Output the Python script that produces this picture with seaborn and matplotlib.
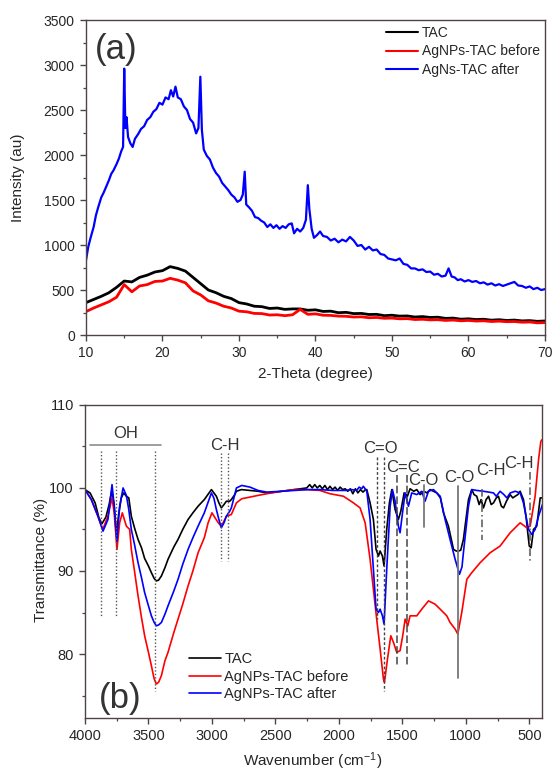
import numpy as np
import pandas as pd
import seaborn as sns
import matplotlib.pyplot as plt
from matplotlib.ticker import MultipleLocator

sns.set_style("ticks")
plt.rcParams['font.family'] = ['Liberation Sans', 'DejaVu Sans']
plt.rcParams['mathtext.default'] = 'regular'

# ---------------- XRD data (panel a) ----------------
xrd_theta = [10, 11, 12, 13, 14, 15, 16, 17, 18, 19, 20, 21, 22, 23, 24, 25, 26, 27, 28, 29,
             30, 31, 32, 33, 34, 35, 36, 37, 38, 39, 40, 41, 42, 43, 44, 45, 46, 47, 48, 49,
             50, 51, 52, 53, 54, 55, 56, 57, 58, 59, 60, 61, 62, 63, 64, 65, 66, 67, 68, 69, 70]
tac_xrd = [360, 395, 430, 470, 530, 600, 590, 640, 665, 700, 715, 760, 740, 710, 640, 570, 500, 470, 430, 405,
           360, 345, 320, 315, 295, 300, 285, 290, 290, 275, 280, 262, 265, 248, 252, 238, 240, 228, 230, 215,
           220, 210, 212, 200, 205, 195, 198, 185, 188, 176, 180, 172, 175, 165, 170, 162, 166, 157, 160, 152, 156]
before_xrd = [260, 300, 335, 370, 420, 560, 480, 545, 560, 595, 600, 630, 610, 580, 490, 445, 380, 355, 320, 300,
              265, 258, 240, 238, 222, 225, 215, 225, 285, 230, 235, 220, 218, 210, 208, 200, 202, 192, 195, 186,
              188, 180, 182, 172, 175, 168, 170, 162, 166, 158, 162, 155, 158, 150, 154, 148, 150, 142, 145, 135, 138]

after_theta = [10.0, 10.3, 10.6, 11.0, 11.3, 11.6, 12.0, 12.3, 12.6, 13.0, 13.3, 13.6, 14.0, 14.3, 14.6, 14.85,
               15.0, 15.15, 15.3, 15.5, 15.8, 16.1, 16.4, 16.8, 17.2, 17.6, 18.0, 18.4, 18.8, 19.2, 19.6, 20.0,
               20.4, 20.8, 21.1, 21.4, 21.7, 22.0, 22.4, 22.8, 23.2, 23.6, 24.0, 24.4, 24.7, 24.95, 25.15, 25.4,
               25.8, 26.2, 26.6, 27.0, 27.4, 27.8, 28.2, 28.6, 29.0, 29.4, 29.8, 30.2, 30.5, 30.75, 30.95, 31.3,
               31.7, 32.1, 32.5, 32.9, 33.3, 33.7, 34.1, 34.5, 34.9, 35.3, 35.7, 36.1, 36.5, 36.9, 37.2, 37.6,
               38.0, 38.4, 38.75, 39.0, 39.2, 39.5, 39.8, 40.2, 40.6, 41.0, 41.5, 42.0, 42.5, 43.0, 43.5, 44.0,
               44.5, 45.0, 45.5, 46.0, 46.5, 47.0, 47.5, 48.0, 48.5, 49.0, 49.5, 50.0, 50.5, 51.0, 51.5, 52.0,
               52.5, 53.0, 53.5, 54.0, 54.5, 55.0, 55.5, 56.0, 56.5, 57.0, 57.4, 57.8, 58.2, 58.6, 59.0, 59.5,
               60.0, 60.5, 61.0, 61.5, 62.0, 62.5, 63.0, 63.5, 64.0, 64.5, 65.0, 65.5, 66.0, 66.5, 67.0, 67.5,
               68.0, 68.5, 69.0, 69.5, 70.0]
after_xrd = [830, 980, 1080, 1200, 1330, 1420, 1530, 1580, 1640, 1720, 1790, 1830, 1900, 1960, 2040, 2090,
             2960, 2300, 2420, 2200, 2130, 2090, 2180, 2230, 2290, 2320, 2390, 2420, 2480, 2510, 2580, 2560,
             2640, 2620, 2720, 2650, 2760, 2640, 2620, 2540, 2500, 2400, 2360, 2240, 2300, 2870, 2280, 2060,
             1990, 1950, 1860, 1800, 1760, 1690, 1650, 1610, 1560, 1530, 1480, 1500, 1560, 1815, 1450, 1420,
             1380, 1310, 1300, 1270, 1250, 1200, 1230, 1190, 1220, 1180, 1210, 1190, 1230, 1240, 1130, 1180,
             1150, 1190, 1280, 1665, 1400, 1180, 1080, 1110, 1150, 1100, 1090, 1050, 1070, 1030, 1060, 1040,
             1090, 1050, 990, 1000, 950, 980, 940, 950, 900, 890, 850, 840, 830, 850, 790, 780,
             740, 740, 720, 730, 700, 705, 670, 680, 650, 660, 740, 650, 640, 610, 620, 595,
             610, 590, 600, 575, 585, 560, 575, 550, 565, 545, 560, 575, 590, 550, 545, 525,
             540, 510, 525, 500, 510]

# ---------------- FTIR data (panel b) ----------------
tac_wn = [4000, 3960, 3920, 3890, 3866, 3835, 3810, 3790, 3770, 3753, 3735, 3714, 3695, 3674, 3655, 3635,
          3610, 3582, 3555, 3530, 3500, 3477, 3455, 3438, 3420, 3398, 3370, 3346, 3300, 3267, 3230, 3188,
          3150, 3109, 3060, 3004, 2985, 2965, 2945, 2926, 2905, 2886, 2860, 2847, 2820, 2807, 2768, 2700,
          2637, 2568, 2500, 2450, 2350, 2253, 2230, 2210, 2190, 2170, 2150, 2130, 2110, 2090, 2070, 2050,
          2030, 2010, 1990, 1970, 1950, 1930, 1910, 1890, 1870, 1850, 1830, 1810, 1790, 1780, 1754, 1728,
          1707, 1688, 1675, 1657, 1644, 1623, 1602, 1583, 1557, 1531, 1512, 1486, 1470, 1460, 1439, 1410,
          1386, 1360, 1330, 1307, 1281, 1255, 1229, 1200, 1176, 1137, 1097, 1075, 1058, 1040, 1019, 979,
          953, 935, 914, 895, 880, 861, 840, 821, 800, 782, 760, 743, 720, 703, 680, 651,
          630, 611, 590, 572, 546, 525, 512, 500, 485, 475, 467, 441, 414, 400]
tac_tr = [99.8, 99.4, 98.2, 96.4, 95.7, 96.5, 98.0, 99.6, 98.0, 94.3, 96.8, 98.8, 99.4, 99.0, 98.8, 96.6,
          95.2, 93.8, 92.8, 91.5, 90.6, 89.8, 89.1, 88.8, 88.9, 89.4, 90.4, 91.4, 92.9, 93.8, 95.0, 96.2,
          97.0, 97.8, 98.6, 99.8, 99.4, 99.0, 98.2, 97.6, 98.0, 98.4, 98.4, 98.6, 99.2, 99.6, 99.8, 99.7,
          99.6, 99.4, 99.5, 99.6, 99.8, 100.0, 100.4, 100.0, 100.4, 100.0, 100.3, 99.9, 100.3, 99.8, 100.2, 99.8,
          100.1, 99.7, 100.1, 99.8, 99.9, 99.6, 99.9, 99.3, 99.9, 99.4, 99.8, 99.5, 99.8, 99.8, 98.2, 96.2,
          92.6, 91.8, 92.4, 91.8, 90.6, 95.0, 98.2, 99.8, 97.4, 96.2, 97.2, 99.4, 99.2, 99.0, 99.9, 99.6,
          99.8, 99.2, 99.6, 99.4, 99.8, 99.6, 99.4, 98.8, 97.0, 95.4, 92.6, 92.4, 92.4, 92.5, 93.8, 98.6,
          99.8, 99.2, 99.0, 98.0, 98.6, 97.6, 98.6, 99.0, 98.0, 98.2, 98.8, 99.0, 97.8, 97.6, 98.4, 99.2,
          98.8, 99.0, 99.2, 99.6, 98.6, 96.5, 94.6, 93.0, 92.8, 94.0, 95.0, 95.4, 98.8, 98.8]

before_wn = [4000, 3950, 3898, 3860, 3819, 3787, 3770, 3748, 3727, 3706, 3674, 3648, 3635, 3610, 3582, 3555,
             3530, 3500, 3477, 3455, 3438, 3420, 3398, 3370, 3346, 3300, 3267, 3230, 3188, 3150, 3109, 3060,
             3030, 3000, 2975, 2950, 2926, 2905, 2886, 2847, 2807, 2765, 2700, 2637, 2568, 2450, 2350, 2250,
             2150, 2069, 1964, 1885, 1833, 1793, 1754, 1728, 1702, 1675, 1649, 1641, 1617, 1591, 1570, 1544,
             1518, 1497, 1478, 1457, 1439, 1386, 1347, 1294, 1242, 1202, 1150, 1124, 1084, 1063, 1032, 992,
             953, 887, 808, 730, 651, 572, 519, 493, 454, 427, 409, 400]
before_tr = [99.8, 98.6, 96.6, 95.0, 96.6, 98.8, 97.0, 92.6, 95.8, 97.0, 95.4, 95.0, 92.6, 90.0, 87.0, 84.4,
             82.2, 80.2, 78.6, 77.0, 76.4, 76.6, 77.4, 79.2, 80.2, 82.6, 84.2, 86.0, 88.2, 90.0, 92.2, 94.0,
             95.8, 97.0, 96.4, 95.8, 95.4, 96.0, 96.6, 96.8, 98.2, 98.7, 98.9, 99.1, 99.3, 99.6, 99.8, 99.8,
             99.7, 99.3, 99.0, 98.2, 97.6, 95.8, 91.4, 87.8, 84.2, 80.6, 77.0, 76.6, 79.4, 82.2, 81.4, 80.2,
             80.4, 82.2, 84.2, 83.4, 84.6, 84.6, 85.4, 86.4, 86.0, 85.4, 84.6, 83.8, 83.0, 82.4, 85.0, 89.0,
             89.8, 91.0, 92.2, 93.0, 94.6, 95.8, 95.2, 95.4, 99.0, 103.4, 105.6, 105.8]

after_wn = [4000, 3950, 3898, 3858, 3819, 3787, 3771, 3748, 3727, 3700, 3674, 3655, 3635, 3610, 3582, 3555,
            3530, 3500, 3477, 3455, 3438, 3420, 3398, 3370, 3346, 3300, 3267, 3230, 3188, 3150, 3109, 3060,
            3004, 2985, 2965, 2945, 2926, 2905, 2886, 2860, 2847, 2820, 2807, 2765, 2700, 2637, 2568, 2450,
            2350, 2250, 2150, 2050, 1950, 1900, 1860, 1840, 1820, 1807, 1780, 1754, 1728, 1707, 1688, 1675,
            1657, 1644, 1623, 1596, 1578, 1557, 1531, 1518, 1497, 1478, 1452, 1426, 1386, 1347, 1321, 1294,
            1255, 1202, 1163, 1124, 1084, 1050, 1030, 1019, 979, 953, 914, 861, 820, 782, 760, 730,
            700, 677, 650, 611, 572, 546, 506, 480, 454, 427, 396]
after_tr = [99.8, 98.6, 96.6, 94.8, 96.2, 100.4, 98.0, 93.6, 97.8, 100.0, 99.1, 97.4, 95.0, 93.2, 91.0, 89.2,
            87.4, 85.8, 84.6, 83.8, 83.4, 83.5, 83.8, 84.8, 85.8, 87.6, 89.0, 90.8, 92.6, 94.0, 95.4, 97.0,
            99.4, 98.8, 97.4, 96.2, 95.2, 95.8, 96.6, 97.2, 97.6, 99.2, 100.0, 100.3, 100.1, 99.7, 99.5, 99.6,
            99.7, 99.8, 99.8, 99.7, 99.7, 99.8, 99.7, 100.1, 99.9, 100.2, 99.6, 96.2, 90.2, 85.4, 85.0, 85.4,
            84.6, 83.6, 90.2, 97.8, 99.8, 98.4, 95.4, 94.6, 97.2, 99.4, 97.8, 99.4, 99.2, 99.6, 98.4, 99.6,
            99.8, 99.0, 96.2, 93.8, 91.4, 89.6, 90.5, 92.2, 97.8, 99.8, 99.7, 99.6, 99.5, 99.4, 99.0, 99.6,
            99.2, 98.8, 99.4, 99.6, 99.4, 98.2, 95.0, 94.4, 95.0, 96.6, 98.0]

# band assignments
oh_lines = [3871, 3753, 3451]
oh_bottoms = [84.6, 84.6, 75.6]
ch_lines = [2931, 2873]
co_dbl_lines = [1703, 1645]
co_dbl_bottoms = [84.2, 75.6]
cc_lines = [1540, 1467]
labels_txt = ["OH", "C-H", "C=O", "C=C", "C-O", "C-O", "C-H", "C-H"]
labels_wn = [3680, 2897, 1675, 1492, 1333, 1050, 800, 580]
labels_tr = [106.6, 105.1, 104.8, 102.5, 100.9, 101.2, 102.1, 102.9]

spine_col = '#4f4343'
txt_col = '#262626'

fig = plt.figure(figsize=(5.54, 7.73), dpi=100)
ax1 = fig.add_axes([0.1552, 0.5666, 0.8285, 0.4075])
ax2 = fig.add_axes([0.1534, 0.0712, 0.8249, 0.405])

# ---- panel a
xrd = pd.DataFrame({'theta': xrd_theta, 'TAC': tac_xrd, 'before': before_xrd})
sns.lineplot(x='theta', y='TAC', data=xrd, ax=ax1, color='black', lw=2.0, sort=False, label='TAC')
sns.lineplot(x='theta', y='before', data=xrd, ax=ax1, color='#ff0000', lw=2.0, sort=False,
             label='AgNPs-TAC before')
sns.lineplot(x=after_theta, y=after_xrd, ax=ax1, color='#0000ff', lw=1.6, sort=False,
             label='AgNs-TAC after')
ax1.set_xlim(10, 70)
ax1.set_ylim(0, 3500)
ax1.xaxis.set_major_locator(MultipleLocator(10))
ax1.xaxis.set_minor_locator(MultipleLocator(5))
ax1.yaxis.set_major_locator(MultipleLocator(500))
ax1.yaxis.set_minor_locator(MultipleLocator(250))
ax1.set_xlabel('2-Theta (degree)', fontsize=11, color=txt_col)
ax1.set_ylabel('Intensity (au)', fontsize=11, color=txt_col)
ax1.xaxis.set_label_coords(0.5, -0.1)
ax1.yaxis.set_label_coords(-0.133, 0.5)
leg1 = ax1.legend(loc='upper left', bbox_to_anchor=(0.641, 1.0), frameon=False, fontsize=10,
                  handlelength=2.3, handletextpad=0.3, labelspacing=0.35, borderaxespad=0)
for h in leg1.get_lines():
    h.set_linewidth(1.5)
ax1.text(0.02, 0.905, '(a)', transform=ax1.transAxes, fontsize=25, color='#333333',
         va='center', ha='left')

# ---- panel b
sns.lineplot(x=tac_wn, y=tac_tr, ax=ax2, color='black', lw=1.2, sort=False, label='TAC')
sns.lineplot(x=before_wn, y=before_tr, ax=ax2, color='#ff0000', lw=1.2, sort=False,
             label='AgNPs-TAC before')
sns.lineplot(x=after_wn, y=after_tr, ax=ax2, color='#0000ff', lw=1.2, sort=False,
             label='AgNPs-TAC after')
ax2.set_xlim(4000, 400)
ax2.set_ylim(72.3, 110)
ax2.xaxis.set_major_locator(MultipleLocator(500))
ax2.xaxis.set_minor_locator(MultipleLocator(250))
ax2.yaxis.set_major_locator(MultipleLocator(10))
ax2.yaxis.set_minor_locator(MultipleLocator(5))
ax2.set_xlabel('Wavenumber (cm$^{-1}$)', fontsize=11, color=txt_col)
ax2.set_ylabel('Transmittance (%)', fontsize=11, color=txt_col)
ax2.xaxis.set_label_coords(0.497, -0.105)
ax2.yaxis.set_label_coords(-0.081, 0.505)

# band markers
ax2.plot([3963, 3399], [105.2, 105.2], color='#8c8c8c', lw=1.2)
for w, b in zip(oh_lines, oh_bottoms):
    ax2.plot([w, w], [104.4, b], color='#555555', lw=1.0, ls=(0, (1, 1.5)))
for w in ch_lines:
    ax2.plot([w, w], [104.2, 91.2], color='#555555', lw=1.0, ls=(0, (1, 1.5)))
for w, b in zip(co_dbl_lines, co_dbl_bottoms):
    ax2.plot([w, w], [103.7, b], color='#444444', lw=1.0, ls=(0, (2, 1.5)))
for w in cc_lines:
    ax2.plot([w, w], [101.6, 78.6], color='#444444', lw=1.1, ls=(0, (5, 2)))
ax2.plot([1326, 1326], [100.4, 95.3], color='#777777', lw=1.3)
ax2.plot([1063, 1063], [100.2, 77.1], color='#777777', lw=1.3)
ax2.plot([871, 871], [99.9, 93.7], color='#555555', lw=1.1, ls=(0, (5, 2, 1, 2)))
ax2.plot([493, 493], [101.9, 91.2], color='#555555', lw=1.1, ls=(0, (5, 2, 1, 2)))
for t, w, v in zip(labels_txt, labels_wn, labels_tr):
    ax2.text(w, v, t, fontsize=12, color='#333333', ha='center', va='center')

ax2.legend(loc='upper left', bbox_to_anchor=(0.214, 0.229), frameon=False, fontsize=10.5,
           handlelength=2.2, handletextpad=0.25, labelspacing=0.25, borderaxespad=0)
ax2.text(0.031, 0.062, '(b)', transform=ax2.transAxes, fontsize=25, color='#333333',
         va='center', ha='left')

for ax, fs in [(ax1, 10), (ax2, 10.5)]:
    for s in ax.spines.values():
        s.set_color(spine_col)
        s.set_linewidth(1.0)
    ax.tick_params(which='major', direction='out', length=4.5, width=1.0, color=spine_col,
                   labelsize=fs, labelcolor=txt_col, top=False, right=False)
    ax.tick_params(which='minor', direction='out', length=2.5, width=0.9, color=spine_col,
                   top=False, right=False)

fig.savefig('out.png', dpi=100)
